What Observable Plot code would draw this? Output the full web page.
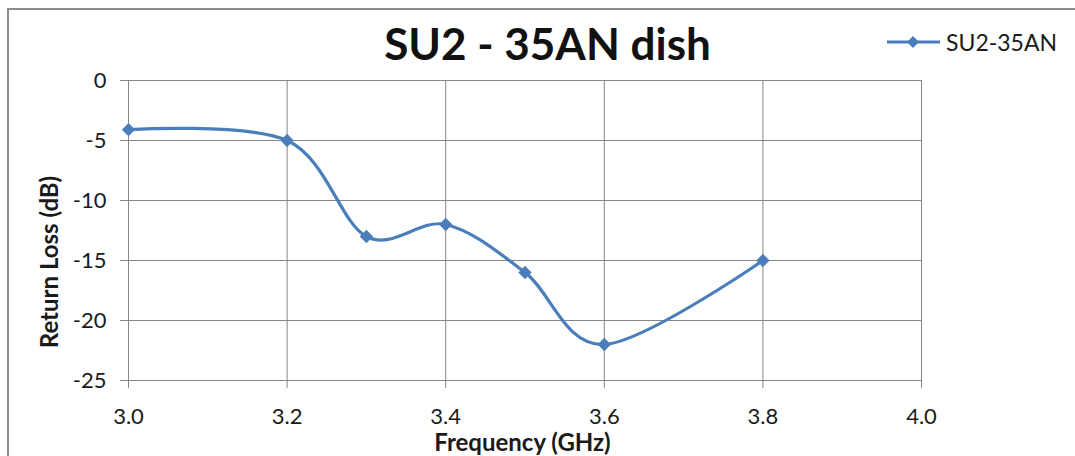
<!DOCTYPE html>
<html>
<head>
<meta charset="utf-8">
<script src="https://cdn.jsdelivr.net/npm/d3@7"></script>
<script src="https://cdn.jsdelivr.net/npm/@observablehq/plot@0.6"></script>
<style>
  html, body { margin: 0; padding: 0; background: #fff; overflow: hidden; }
  #wrap { position: relative; width: 1075px; height: 456px; overflow: hidden; font-family: Lato, "Open Sans", sans-serif; color: #1a1a1a; }
  #frame { position: absolute; left: 7px; top: 8px; width: 1200px; height: 600px; border: 2px solid #8c8c8c; box-sizing: border-box; }
  #chart { position: absolute; left: 0; top: 0; }
  .lbl { position: absolute; white-space: nowrap; line-height: 1; transform: translate(-50%, -50%); }
  #title { left: 547.5px; top: 43px; font-size: 44px; font-weight: 700; color: #111; }
  #xlabel { left: 522.5px; top: 442px; font-size: 24px; font-weight: 700; }
  #ylabel { left: 49px; top: 262px; font-size: 24px; font-weight: 700; transform: translate(-50%, -50%) rotate(-90deg); }
  #legend { position: absolute; left: 886px; top: 30px; height: 24px; display: flex; align-items: center; }
  #legend span { font-size: 23px; line-height: 1; margin-left: 6px; color: #1a1a1a; }
</style>
</head>
<body>
<div id="wrap">
  <div id="frame"></div>
  <div id="chart"></div>
  <div id="title" class="lbl">SU2 - 35AN dish</div>
  <div id="xlabel" class="lbl">Frequency (GHz)</div>
  <div id="ylabel" class="lbl">Return Loss (dB)</div>
  <div id="legend"></div>
</div>
<script>
// Data
const seriesName = "SU2-35AN";
const frequency = [3.0, 3.2, 3.3, 3.4, 3.5, 3.6, 3.8];
const returnLoss = [-4.1, -5, -13, -12, -16, -22, -15];
const xTicks = [3.0, 3.2, 3.4, 3.6, 3.8, 4.0];
const yTicks = [0, -5, -10, -15, -20, -25];

const lineColor = "#4A7EBB";
const gridColor = "#868686";

const data = frequency.map((f, i) => ({ f, rl: returnLoss[i] }));

const chart = Plot.plot({
  width: 1075,
  height: 456,
  marginLeft: 128,
  marginRight: 154,
  marginTop: 80,
  marginBottom: 76,
  style: { fontFamily: "Lato, 'Open Sans', sans-serif", color: "#1a1a1a", background: "transparent" },
  x: { domain: [3.0, 4.0] },
  y: { domain: [-25, 0] },
  marks: [
    Plot.gridX(xTicks, { stroke: gridColor, strokeOpacity: 1, strokeWidth: 1 }),
    Plot.gridY(yTicks, { stroke: gridColor, strokeOpacity: 1, strokeWidth: 1 }),
    Plot.axisX(xTicks, { tickSize: 8, tickPadding: 20, tickFormat: d3.format(".1f"), stroke: gridColor, fill: "#1a1a1a", fontSize: 22, label: null }),
    Plot.axisY(yTicks, { tickSize: 8, tickPadding: 14, tickFormat: d => String(d), stroke: gridColor, fill: "#1a1a1a", fontSize: 22, label: null }),
    Plot.line(data, { x: "f", y: "rl", curve: d3.curveCatmullRom.alpha(0), stroke: lineColor, strokeWidth: 3.2 }),
    Plot.dot(data, { x: "f", y: "rl", symbol: "diamond2", fill: lineColor, stroke: "none", r: 6 })
  ]
});
document.getElementById("chart").appendChild(chart);

// Legend
const legend = document.getElementById("legend");
const ns = "http://www.w3.org/2000/svg";
const svg = document.createElementNS(ns, "svg");
svg.setAttribute("width", 54);
svg.setAttribute("height", 24);
const ln = document.createElementNS(ns, "line");
ln.setAttribute("x1", 1); ln.setAttribute("x2", 54);
ln.setAttribute("y1", 12); ln.setAttribute("y2", 12);
ln.setAttribute("stroke", lineColor); ln.setAttribute("stroke-width", 3);
svg.appendChild(ln);
const dm = document.createElementNS(ns, "path");
dm.setAttribute("d", "M27,6L33,12L27,18L21,12Z");
dm.setAttribute("fill", lineColor);
svg.appendChild(dm);
legend.appendChild(svg);
const lt = document.createElement("span");
lt.textContent = seriesName;
legend.appendChild(lt);
</script>
</body>
</html>
